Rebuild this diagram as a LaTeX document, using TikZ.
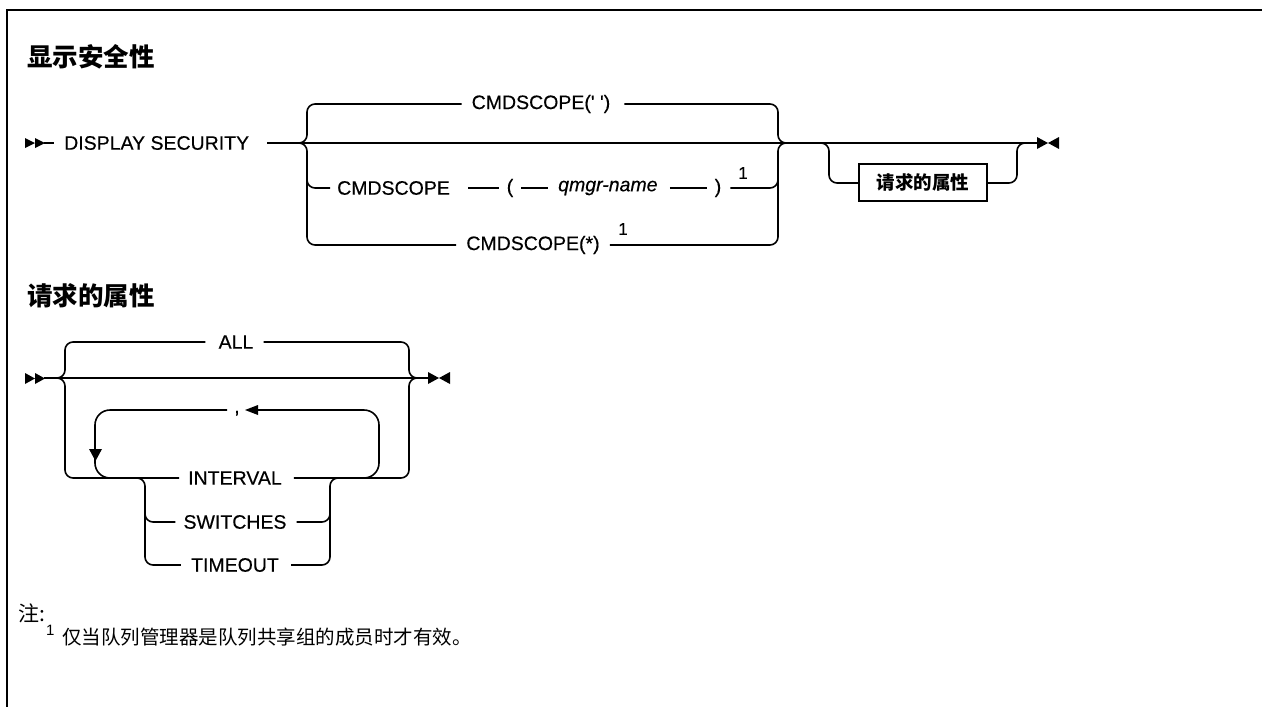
\documentclass[tikz,border=0pt]{standalone}
\usepackage{fontspec}
\setmainfont{Liberation Sans}
\newfontfamily\railfont[FakeBold=0.35]{Liberation Sans}
\newfontfamily\cjk{Noto Sans CJK SC}
\usetikzlibrary{arrows.meta}
\tikzset{
  rr/.style={line width=1.6pt, rounded corners=8pt},
  loopr/.style={line width=1.6pt, rounded corners=15pt},
  kw/.style={inner sep=0pt, font=\fontsize{19.5}{21}\railfont},
  var/.style={inner sep=0pt, font=\fontsize{19.5}{21}\railfont\itshape},
  sup/.style={inner sep=0pt, font=\fontsize{17}{18}\railfont},
  heading/.style={inner sep=0pt, anchor=west, font=\fontsize{25.5}{28}\selectfont\cjk\bfseries},
  note/.style={inner sep=0pt, anchor=west, font=\fontsize{19.5}{24}\selectfont\cjk},
  refbox/.style={draw, line width=1.6pt, minimum width=128pt, minimum height=37pt, inner sep=0pt, font=\fontsize{18.5}{20}\selectfont\cjk\bfseries},
  tipfill/.style={fill=black, draw=none},
}
\begin{document}
\begin{tikzpicture}[x=1pt,y=-1pt]
\useasboundingbox (0,0) rectangle (1262,707);
% frame
\draw[line width=2.6pt] (7,707) -- (7,10) -- (1262,10);

% ---------- section 1 ----------
\node[heading] (t1) at (27,57) {显示安全性};
\fill[tipfill] (25,138) -- (35,143) -- (25,148) -- cycle;
\fill[tipfill] (35,138) -- (45,143) -- (35,148) -- cycle;
\node[kw, anchor=west] (ds) at (64,143) {DISPLAY SECURITY};
\coordinate (a1) at (44,143);
\coordinate (a2) at (54,143);
\draw[line width=1.6pt] (a1) -- (a2);
\coordinate (m0) at (267,143);
\coordinate (e1) at (1037,143);
\draw[line width=1.6pt] (m0) -- (e1);

% CMDSCOPE(' ')
\node[kw] (c1) at (541,104) {CMDSCOPE(' ')};
\draw[rr] (296,143) -- (307,143) -- (307,104) -- ([xshift=-10pt]c1.west);
\draw[rr] ([xshift=14pt]c1.east) -- (778,104) -- (778,143) -- (790,143);

% CMDSCOPE ( qmgr-name ) 1
\node[kw, anchor=west] (c2) at (337,188) {CMDSCOPE};
\node[kw] (lp) at (510,188) {(};
\node[var, anchor=west] (qm) at (558,188) {qmgr-name};
\node[kw] (rp) at (718,188) {)};
\node[sup] (n1) at (743,173) {1};
\draw[line width=1.6pt] (468,188) -- ([xshift=-8pt]lp.west);
\draw[line width=1.6pt] ([xshift=8pt]lp.east) -- ([xshift=-10pt]qm.west);
\draw[line width=1.6pt] ([xshift=12pt]qm.east) -- ([xshift=-8pt]rp.west);
\draw[rr] (307,170) -- (307,188) -- ([xshift=-7pt]c2.west);
\draw[rr] ([xshift=9pt]rp.east) -- (778,188) -- (778,170);

% CMDSCOPE(*) 1
\node[kw] (c3) at (533,245) {CMDSCOPE(*)};
\node[sup] (n2) at (623,229) {1};
\draw[rr] (296,143) -- (307,143) -- (307,245) -- ([xshift=-10pt]c3.west);
\draw[rr] ([xshift=10pt]c3.east) -- (778,245) -- (778,143) -- (790,143);

% optional reference box
\node[refbox] (rb) at (923,182.5) {请求的属性};
\draw[rr] (818,143) -- (829,143) -- (829,183) -- (rb.west |- 0,183);
\draw[rr] (rb.east |- 0,183) -- (1017,183) -- (1017,143) -- (1028,143);
% end bowtie
\fill[tipfill] (1037,137) -- (1048,143) -- (1037,149) -- cycle;
\fill[tipfill] (1059,137) -- (1048,143) -- (1059,149) -- cycle;

% ---------- section 2 ----------
\node[heading] (t2) at (27,296) {请求的属性};
\fill[tipfill] (25,373) -- (35,378.5) -- (25,384) -- cycle;
\fill[tipfill] (35,373) -- (45,378.5) -- (35,384) -- cycle;
\coordinate (b1) at (44,378);
\coordinate (e2) at (428,378);
\draw[line width=1.6pt] (b1) -- (e2);
\fill[tipfill] (428,372) -- (439,378) -- (428,384) -- cycle;
\fill[tipfill] (450,372) -- (439,378) -- (450,384) -- cycle;

% ALL
\node[kw] (all) at (236,342) {ALL};
\draw[rr] (54,378) -- (65,378) -- (65,342) -- ([xshift=-13pt]all.west);
\draw[rr] ([xshift=10pt]all.east) -- (409,342) -- (409,378) -- (420,378);

% INTERVAL row
\node[kw] (iv) at (235,478) {INTERVAL};
\draw[rr] (54,378) -- (65,378) -- (65,478) -- ([xshift=-9pt]iv.west);
\draw[rr] ([xshift=12pt]iv.east) -- (409,478) -- (409,378) -- (420,378);

% repeat loop
\node[kw, anchor=base] (cm) at (237,413) {,};
\draw[loopr] (360,478) -- (379,478) -- (379,410) -- (258,410);
\fill[tipfill] (245,410) -- (258,405) -- (258,415) -- cycle;
\draw[loopr] (227,410) -- (95,410) -- (95,478) -- (118,478);
\fill[tipfill] (89,449) -- (102,449) -- (95.5,461) -- cycle;

% SWITCHES / TIMEOUT
\node[kw] (sw) at (235,522) {SWITCHES};
\node[kw] (to) at (235,565) {TIMEOUT};
\draw[rr] (133,478) -- (145,478) -- (145,565) -- ([xshift=-10pt]to.west);
\draw[rr] (145,505) -- (145,522) -- ([xshift=-8pt]sw.west);
\draw[rr] ([xshift=12pt]to.east) -- (330,565) -- (330,478) -- (342,478);
\draw[rr] ([xshift=10pt]sw.east) -- (330,522) -- (330,505);

% notes
\node[note, font=\fontsize{21}{24}\selectfont\cjk] (nt) at (18,613) {注:};
\node[sup, anchor=west, font=\fontsize{15}{16}\selectfont] (nn) at (46,630) {1};
\node[note] (ntx) at (62,637) {仅当队列管理器是队列共享组的成员时才有效。};
\end{tikzpicture}
\end{document}
